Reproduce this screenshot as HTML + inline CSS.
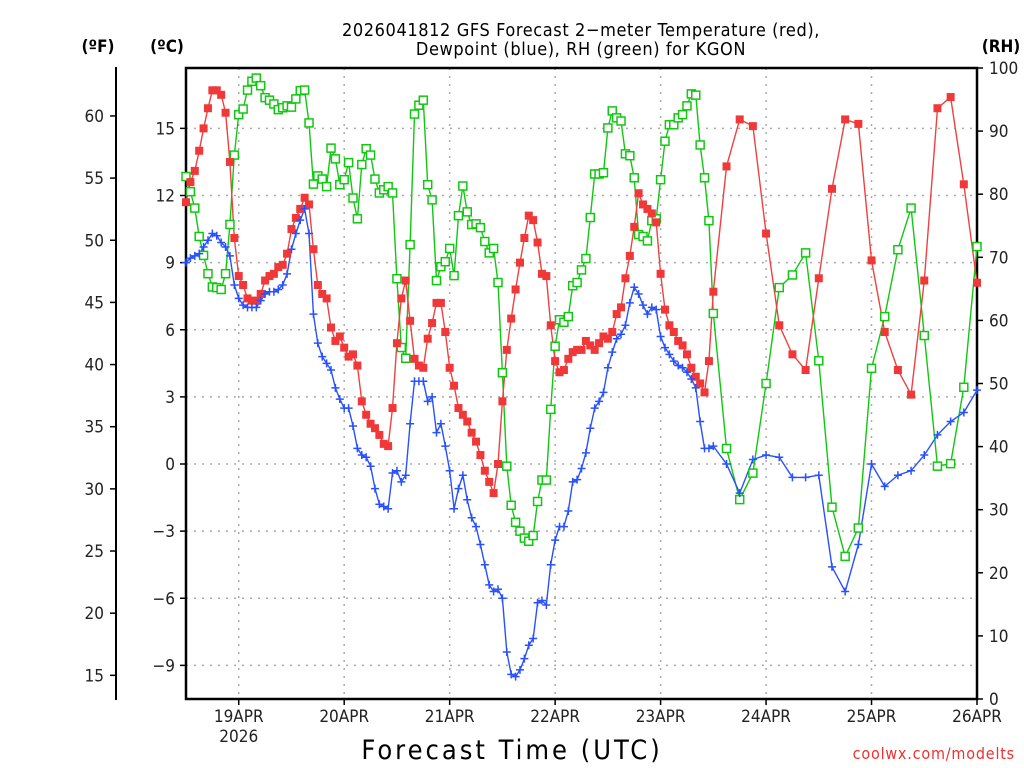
<!DOCTYPE html>
<html><head><meta charset="utf-8"><style>
html,body{margin:0;padding:0;background:#fff;}
svg{display:block;}
text{font-family:"DejaVu Sans Condensed","DejaVu Sans","Liberation Sans",sans-serif;}
</style></head><body>
<svg id="chart" width="1024" height="768" viewBox="0 0 1024 768" xmlns="http://www.w3.org/2000/svg">
<g id="grid"></g>
<g id="axes"></g>
<g id="series"></g>
<text x="581" y="36" text-anchor="middle" font-size="18" fill="#000" font-family="'DejaVu Sans',sans-serif" letter-spacing="0.6">2026041812 GFS Forecast 2−meter Temperature (red),</text>
<text x="581" y="55" text-anchor="middle" font-size="18" fill="#000" font-family="'DejaVu Sans',sans-serif" letter-spacing="0.6">Dewpoint (blue), RH (green) for KGON</text>
<text x="98" y="52" text-anchor="middle" font-size="17" font-weight="bold" fill="#000">(ºF)</text>
<text x="167" y="52" text-anchor="middle" font-size="17" font-weight="bold" fill="#000">(ºC)</text>
<text x="1001" y="52" text-anchor="middle" font-size="17" font-weight="bold" fill="#000">(RH)</text>
<text x="512" y="759" text-anchor="middle" font-size="27" fill="#000" font-family="'DejaVu Sans',sans-serif" letter-spacing="3">Forecast Time (UTC)</text>
<text x="1015" y="759" text-anchor="end" font-size="16" fill="#f03030" font-family="'DejaVu Sans',sans-serif" letter-spacing="0.8">coolwx.com/modelts</text>
</svg>
<script>
const tempC = [11.7,12.6,13.1,14.0,15.0,15.9,16.7,16.7,16.5,15.7,13.5,10.1,8.4,8.0,7.4,7.3,7.3,7.6,8.2,8.4,8.5,8.8,8.9,9.4,10.5,11.0,11.4,11.9,11.6,9.6,8.0,7.6,7.4,6.1,5.5,5.7,5.2,4.8,4.9,4.4,2.8,2.2,1.8,1.6,1.3,
0.9,0.8,2.5,5.4,7.4,8.2,6.4,4.7,4.4,4.3,5.6,6.3,7.2,7.2,5.9,4.3,3.5,2.5,2.2,1.9,1.4,1.0,0.4,-0.3,-0.8,-1.3,0.0,2.8,5.1,6.5,7.8,9.0,10.1,11.1,10.9,9.9,8.5,8.4,6.2,4.6,4.1,4.2,4.7,
5.0,5.1,5.1,5.5,5.3,5.1,5.4,5.7,5.6,5.9,6.7,7.0,8.3,9.3,10.6,12.1,11.6,11.4,11.2,10.8,8.5,6.9,6.2,5.9,5.5,5.3,4.9,4.3,3.9,3.6,3.2,4.6,7.7,
13.3,15.4,15.1,10.3,6.2,4.9,4.2,8.3,12.3,15.4,15.2,9.1,5.9,4.2,3.1,8.2,15.9,16.4,12.5,8.1];
const dewC = [9.0,9.2,9.3,9.4,9.7,10.0,10.3,10.2,9.9,9.7,9.3,8.0,7.4,7.1,7.0,7.0,7.0,7.3,7.6,7.7,7.7,7.8,8.0,8.5,9.6,10.3,10.9,11.4,10.3,6.7,5.4,4.8,4.5,4.2,3.4,2.9,2.5,2.5,1.7,0.7,0.4,0.3,
-0.1,-1.1,-1.8,-1.9,-2.0,-0.4,-0.3,-0.8,-0.5,1.8,3.7,3.7,3.7,2.8,3.0,1.4,1.8,0.8,-0.3,-2.0,-1.1,-0.5,-1.6,-2.4,-2.8,-3.6,-4.5,-5.4,-5.7,-5.6,-6.0,-8.4,-9.4,-9.5,-9.2,-8.7,-8.1,-7.8,-6.2,-6.1,-6.3,-4.5,-3.4,-2.8,-2.8,-2.1,
-0.8,-0.7,-0.2,0.5,1.6,2.5,2.8,3.2,4.3,5.0,5.6,5.8,6.2,7.2,7.9,7.6,7.1,6.7,7.0,6.9,5.7,5.2,4.9,4.6,4.4,4.3,4.1,3.8,3.4,1.9,0.7,0.7,0.8,
0.0,-1.3,0.2,0.4,0.3,-0.6,-0.6,-0.5,-4.6,-5.7,-3.6,0.0,-1.0,-0.5,-0.3,0.4,1.3,1.9,2.3,3.3];
const rhPct = [82.8,80.4,77.8,73.3,70.3,67.4,65.3,65.2,64.9,67.4,75.2,86.2,92.6,93.5,96.5,97.9,98.4,97.2,95.3,94.9,94.3,93.4,93.7,94.0,93.8,95.1,96.4,96.5,91.3,81.6,82.9,82.4,81.2,87.3,85.6,81.5,82.3,85.0,79.4,76.1,84.7,87.2,
86.2,82.4,80.2,80.7,81.2,80.2,66.6,55.7,54.0,72.0,92.7,94.1,94.9,81.5,79.1,66.3,68.5,69.3,71.4,67.1,76.6,81.3,77.2,75.2,75.3,74.7,72.5,70.7,71.4,66.0,51.7,36.9,30.7,28.0,26.6,25.5,25.0,25.9,31.3,34.7,34.7,45.9,55.9,60.1,59.7,60.6,
65.5,66.0,68.0,69.8,76.3,83.2,83.2,83.4,90.5,93.2,92.1,91.6,86.4,86.1,82.6,73.6,73.3,72.6,75.8,76.1,82.3,88.4,91.0,91.0,92.1,92.6,94.0,95.9,95.7,87.8,82.6,75.8,61.1,
39.7,31.6,35.8,50.0,65.2,67.2,70.7,53.6,30.4,22.6,27.1,52.4,60.6,71.2,77.8,57.6,36.9,37.3,49.4,71.7];
const hourlyEnd = 120;
const threeHourlyEnd = 180;
const dayLabels = ["19APR","20APR","21APR","22APR","23APR","24APR","25APR","26APR"];
const cTicks = [15,12,9,6,3,0,-3,-6,-9];
const fTicks = [60,55,50,45,40,35,30,25,20,15];
const rhTicks = [100,90,80,70,60,50,40,30,20,10,0];

const NS="http://www.w3.org/2000/svg";
const L=186,R=977,T=68,B=699;
const hours=[];
for(let h=0;h<=hourlyEnd;h++)hours.push(h);
for(let h=hourlyEnd+3;h<=threeHourlyEnd;h+=3)hours.push(h);
const xH=h=>L+(R-L)*h/180;
const yC=c=>464-22.375*c;
const yF=f=>yC((f-32)*5/9);
const yRH=r=>B-(B-T)*r/100;
function mk(tag,attrs,parent){const e=document.createElementNS(NS,tag);for(const k in attrs)e.setAttribute(k,attrs[k]);parent.appendChild(e);return e;}
const grid=document.getElementById('grid'),axes=document.getElementById('axes'),ser=document.getElementById('series');
cTicks.forEach(c=>{const l=mk('line',{x1:L,x2:R,y1:yC(c),y2:yC(c),stroke:'#aaa','stroke-width':1.5,'stroke-dasharray':'2,6'},grid);

});
dayLabels.forEach((d,i)=>{const x=xH(12+24*i);
const l=mk('line',{x1:x,x2:x,y1:T,y2:B,stroke:'#aaa','stroke-width':1.5,'stroke-dasharray':'2,6'},grid);


const tk=mk('line',{x1:x,x2:x,y1:B,y2:B+6,stroke:'#000','stroke-width':1.5},axes);


const t=mk('text',{x:x,y:722,'text-anchor':'middle','font-size':17,fill:'#222'},axes);t.textContent=d;

});
const yr=mk('text',{x:xH(12),y:742,'text-anchor':'middle','font-size':17,fill:'#222'},axes);yr.textContent='2026';


const fr=mk('rect',{x:L,y:T,width:R-L,height:B-T,fill:'none',stroke:'#000','stroke-width':2.5},axes);


cTicks.forEach(c=>{const y=yC(c);
const tk=mk('line',{x1:L-6,x2:L,y1:y,y2:y,stroke:'#000','stroke-width':1.5},axes);


const t=mk('text',{x:175,y:y+6,'text-anchor':'end','font-size':17,fill:'#222'},axes);t.textContent=c<0?'−'+(-c):String(c);

});
const fl=mk('line',{x1:116,x2:116,y1:67,y2:700,stroke:'#000','stroke-width':2},axes);


fTicks.forEach(f=>{const y=yF(f);
const tk=mk('line',{x1:110,x2:116,y1:y,y2:y,stroke:'#000','stroke-width':1.5},axes);


const t=mk('text',{x:104,y:y+6,'text-anchor':'end','font-size':17,fill:'#222'},axes);t.textContent=String(f);

});
rhTicks.forEach(r=>{const y=yRH(r);
const tk=mk('line',{x1:R,x2:R+6,y1:y,y2:y,stroke:'#000','stroke-width':1.5},axes);


const t=mk('text',{x:989,y:y+6,'text-anchor':'start','font-size':17,fill:'#222'},axes);t.textContent=String(r);

});
function line(vals,yf,color,name){const pts=vals.map((v,i)=>xH(hours[i]).toFixed(1)+','+yf(v).toFixed(1)).join(' ');
const p=mk('polyline',{points:pts,fill:'none',stroke:color,'stroke-width':1.4},ser);

}
line(rhPct,yRH,'#10c810','rh-line');
line(tempC,yC,'#f04040','temperature-line');
line(dewC,yC,'#2850ff','dewpoint-line');
rhPct.forEach((v,i)=>{const m=mk('rect',{x:xH(hours[i])-4,y:yRH(v)-4,width:8,height:8,fill:'#fff',stroke:'#10c810','stroke-width':1.5},ser);

});
tempC.forEach((v,i)=>{const m=mk('rect',{x:xH(hours[i])-4,y:yC(v)-4,width:8,height:8,fill:'#f03838'},ser);

});
dewC.forEach((v,i)=>{const x=xH(hours[i]),y=yC(v);
const m=mk('path',{d:`M${x-4},${y}H${x+4}M${x},${y-4}V${y+4}`,stroke:'#2850ff','stroke-width':1.5,fill:'none'},ser);

});
</script>
</body></html>
